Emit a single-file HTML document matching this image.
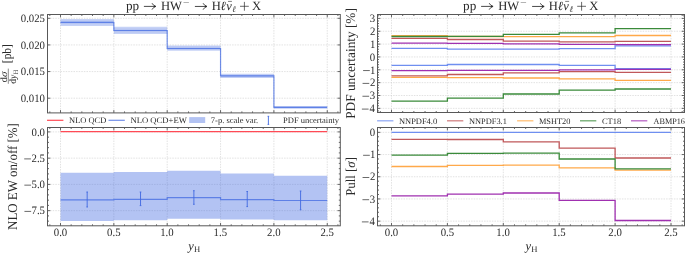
<!DOCTYPE html>
<html><head><meta charset="utf-8"><style>
html,body{margin:0;padding:0;background:#fff;width:685px;height:253px;overflow:hidden}
svg{display:block;will-change:transform}
text{font-family:"Liberation Serif",serif;fill:#2a2a2a;text-rendering:geometricPrecision}
</style></head><body>
<svg width="685" height="253" viewBox="0 0 685 253">
<rect width="685" height="253" fill="#fff"/>
<line x1="60.50" y1="14.50" x2="60.50" y2="112.50" stroke="#cfcfcf" stroke-width="0.6" stroke-dasharray="1.5,1.1"/>
<line x1="113.85" y1="14.50" x2="113.85" y2="112.50" stroke="#cfcfcf" stroke-width="0.6" stroke-dasharray="1.5,1.1"/>
<line x1="167.20" y1="14.50" x2="167.20" y2="112.50" stroke="#cfcfcf" stroke-width="0.6" stroke-dasharray="1.5,1.1"/>
<line x1="220.55" y1="14.50" x2="220.55" y2="112.50" stroke="#cfcfcf" stroke-width="0.6" stroke-dasharray="1.5,1.1"/>
<line x1="273.90" y1="14.50" x2="273.90" y2="112.50" stroke="#cfcfcf" stroke-width="0.6" stroke-dasharray="1.5,1.1"/>
<line x1="327.25" y1="14.50" x2="327.25" y2="112.50" stroke="#cfcfcf" stroke-width="0.6" stroke-dasharray="1.5,1.1"/>
<line x1="47.50" y1="18.30" x2="340.50" y2="18.30" stroke="#cfcfcf" stroke-width="0.6" stroke-dasharray="1.5,1.1"/>
<line x1="47.50" y1="44.93" x2="340.50" y2="44.93" stroke="#cfcfcf" stroke-width="0.6" stroke-dasharray="1.5,1.1"/>
<line x1="47.50" y1="71.57" x2="340.50" y2="71.57" stroke="#cfcfcf" stroke-width="0.6" stroke-dasharray="1.5,1.1"/>
<line x1="47.50" y1="98.20" x2="340.50" y2="98.20" stroke="#cfcfcf" stroke-width="0.6" stroke-dasharray="1.5,1.1"/>
<path d="M60.50 18.90L113.85 18.90L113.85 26.80L167.20 26.80L167.20 45.40L220.55 45.40L220.55 73.80L273.90 73.80L273.90 106.10L327.25 106.10L327.25 108.80L273.90 108.80L273.90 78.10L220.55 78.10L220.55 50.80L167.20 50.80L167.20 33.90L113.85 33.90L113.85 25.90L60.50 25.90Z" fill="#4169e1" fill-opacity="0.30"/>
<path d="M60.50 20.40L113.85 20.40L113.85 28.50L167.20 28.50L167.20 46.60L220.55 46.60L220.55 74.80L273.90 74.80L273.90 106.60L327.25 106.60L327.25 108.20L273.90 108.20L273.90 77.20L220.55 77.20L220.55 50.00L167.20 50.00L167.20 32.40L113.85 32.40L113.85 24.30L60.50 24.30Z" fill="#4169e1" fill-opacity="0.12"/>
<path d="M60.50 22.35H113.85V30.50H167.20V48.50H220.55V75.90H273.90V107.40H327.25" fill="none" stroke="#4169e1" stroke-opacity="0.75" stroke-width="1.2"/>
<path d="M60.50 112.90v-2.8M60.50 14.50v2.8M113.85 112.90v-2.8M113.85 14.50v2.8M167.20 112.90v-2.8M167.20 14.50v2.8M220.55 112.90v-2.8M220.55 14.50v2.8M273.90 112.90v-2.8M273.90 14.50v2.8M327.25 112.90v-2.8M327.25 14.50v2.8M49.83 112.90v-1.5M49.83 14.50v1.5M71.17 112.90v-1.5M71.17 14.50v1.5M81.84 112.90v-1.5M81.84 14.50v1.5M92.51 112.90v-1.5M92.51 14.50v1.5M103.18 112.90v-1.5M103.18 14.50v1.5M124.52 112.90v-1.5M124.52 14.50v1.5M135.19 112.90v-1.5M135.19 14.50v1.5M145.86 112.90v-1.5M145.86 14.50v1.5M156.53 112.90v-1.5M156.53 14.50v1.5M177.87 112.90v-1.5M177.87 14.50v1.5M188.54 112.90v-1.5M188.54 14.50v1.5M199.21 112.90v-1.5M199.21 14.50v1.5M209.88 112.90v-1.5M209.88 14.50v1.5M231.22 112.90v-1.5M231.22 14.50v1.5M241.89 112.90v-1.5M241.89 14.50v1.5M252.56 112.90v-1.5M252.56 14.50v1.5M263.23 112.90v-1.5M263.23 14.50v1.5M284.57 112.90v-1.5M284.57 14.50v1.5M295.24 112.90v-1.5M295.24 14.50v1.5M305.91 112.90v-1.5M305.91 14.50v1.5M316.58 112.90v-1.5M316.58 14.50v1.5M337.92 112.90v-1.5M337.92 14.50v1.5M47.50 18.30h2.8M340.30 18.30h-2.8M47.50 44.93h2.8M340.30 44.93h-2.8M47.50 71.57h2.8M340.30 71.57h-2.8M47.50 98.20h2.8M340.30 98.20h-2.8" stroke="#444" stroke-width="0.8" fill="none"/>
<rect x="47.50" y="14.50" width="292.80" height="98.40" fill="none" stroke="#585858" stroke-width="1"/>
<line x1="60.50" y1="127.50" x2="60.50" y2="225.50" stroke="#cfcfcf" stroke-width="0.6" stroke-dasharray="1.5,1.1"/>
<line x1="113.85" y1="127.50" x2="113.85" y2="225.50" stroke="#cfcfcf" stroke-width="0.6" stroke-dasharray="1.5,1.1"/>
<line x1="167.20" y1="127.50" x2="167.20" y2="225.50" stroke="#cfcfcf" stroke-width="0.6" stroke-dasharray="1.5,1.1"/>
<line x1="220.55" y1="127.50" x2="220.55" y2="225.50" stroke="#cfcfcf" stroke-width="0.6" stroke-dasharray="1.5,1.1"/>
<line x1="273.90" y1="127.50" x2="273.90" y2="225.50" stroke="#cfcfcf" stroke-width="0.6" stroke-dasharray="1.5,1.1"/>
<line x1="327.25" y1="127.50" x2="327.25" y2="225.50" stroke="#cfcfcf" stroke-width="0.6" stroke-dasharray="1.5,1.1"/>
<line x1="47.50" y1="131.90" x2="340.50" y2="131.90" stroke="#cfcfcf" stroke-width="0.6" stroke-dasharray="1.5,1.1"/>
<line x1="47.50" y1="158.15" x2="340.50" y2="158.15" stroke="#cfcfcf" stroke-width="0.6" stroke-dasharray="1.5,1.1"/>
<line x1="47.50" y1="184.40" x2="340.50" y2="184.40" stroke="#cfcfcf" stroke-width="0.6" stroke-dasharray="1.5,1.1"/>
<line x1="47.50" y1="210.65" x2="340.50" y2="210.65" stroke="#cfcfcf" stroke-width="0.6" stroke-dasharray="1.5,1.1"/>
<path d="M60.50 172.70L113.85 172.70L113.85 171.90L167.20 171.90L167.20 170.70L220.55 170.70L220.55 173.50L273.90 173.50L273.90 175.80L327.25 175.80L327.25 220.30L273.90 220.30L273.90 219.50L220.55 219.50L220.55 218.70L167.20 218.70L167.20 220.30L113.85 220.30L113.85 221.10L60.50 221.10Z" fill="#4169e1" fill-opacity="0.40"/>
<path d="M60.50 131.6H327.25" stroke="#ff4a55" stroke-width="1.2" fill="none"/>
<path d="M60.50 199.90H113.85V199.30H167.20V197.60H220.55V199.70H273.90V200.50H327.25" fill="none" stroke="#4169e1" stroke-opacity="0.75" stroke-width="1.2"/>
<path d="M87.17 192V207M86.38 192h1.6M86.38 207h1.6M140.53 192V205.6M139.72 192h1.6M139.72 205.6h1.6M193.88 190.7V204.3M193.07 190.7h1.6M193.07 204.3h1.6M247.22 191.5V206.6M246.42 191.5h1.6M246.42 206.6h1.6M300.58 191V209.8M299.78 191h1.6M299.78 209.8h1.6" stroke="#4169e1" stroke-width="0.9" fill="none"/>
<path d="M60.50 225.80v-2.8M60.50 127.50v2.8M113.85 225.80v-2.8M113.85 127.50v2.8M167.20 225.80v-2.8M167.20 127.50v2.8M220.55 225.80v-2.8M220.55 127.50v2.8M273.90 225.80v-2.8M273.90 127.50v2.8M327.25 225.80v-2.8M327.25 127.50v2.8M49.83 225.80v-1.5M49.83 127.50v1.5M71.17 225.80v-1.5M71.17 127.50v1.5M81.84 225.80v-1.5M81.84 127.50v1.5M92.51 225.80v-1.5M92.51 127.50v1.5M103.18 225.80v-1.5M103.18 127.50v1.5M124.52 225.80v-1.5M124.52 127.50v1.5M135.19 225.80v-1.5M135.19 127.50v1.5M145.86 225.80v-1.5M145.86 127.50v1.5M156.53 225.80v-1.5M156.53 127.50v1.5M177.87 225.80v-1.5M177.87 127.50v1.5M188.54 225.80v-1.5M188.54 127.50v1.5M199.21 225.80v-1.5M199.21 127.50v1.5M209.88 225.80v-1.5M209.88 127.50v1.5M231.22 225.80v-1.5M231.22 127.50v1.5M241.89 225.80v-1.5M241.89 127.50v1.5M252.56 225.80v-1.5M252.56 127.50v1.5M263.23 225.80v-1.5M263.23 127.50v1.5M284.57 225.80v-1.5M284.57 127.50v1.5M295.24 225.80v-1.5M295.24 127.50v1.5M305.91 225.80v-1.5M305.91 127.50v1.5M316.58 225.80v-1.5M316.58 127.50v1.5M337.92 225.80v-1.5M337.92 127.50v1.5M47.50 131.90h2.8M340.30 131.90h-2.8M47.50 158.15h2.8M340.30 158.15h-2.8M47.50 184.40h2.8M340.30 184.40h-2.8M47.50 210.65h2.8M340.30 210.65h-2.8M47.50 221.15h1.5M340.30 221.15h-1.5M47.50 215.90h1.5M340.30 215.90h-1.5M47.50 205.40h1.5M340.30 205.40h-1.5M47.50 200.15h1.5M340.30 200.15h-1.5M47.50 194.90h1.5M340.30 194.90h-1.5M47.50 189.65h1.5M340.30 189.65h-1.5M47.50 179.15h1.5M340.30 179.15h-1.5M47.50 173.90h1.5M340.30 173.90h-1.5M47.50 168.65h1.5M340.30 168.65h-1.5M47.50 163.40h1.5M340.30 163.40h-1.5M47.50 152.90h1.5M340.30 152.90h-1.5M47.50 147.65h1.5M340.30 147.65h-1.5M47.50 142.40h1.5M340.30 142.40h-1.5M47.50 137.15h1.5M340.30 137.15h-1.5" stroke="#444" stroke-width="0.8" fill="none"/>
<rect x="47.50" y="127.50" width="292.80" height="98.30" fill="none" stroke="#585858" stroke-width="1"/>
<line x1="391.50" y1="14.50" x2="391.50" y2="112.50" stroke="#cfcfcf" stroke-width="0.6" stroke-dasharray="1.5,1.1"/>
<line x1="447.40" y1="14.50" x2="447.40" y2="112.50" stroke="#cfcfcf" stroke-width="0.6" stroke-dasharray="1.5,1.1"/>
<line x1="503.30" y1="14.50" x2="503.30" y2="112.50" stroke="#cfcfcf" stroke-width="0.6" stroke-dasharray="1.5,1.1"/>
<line x1="559.20" y1="14.50" x2="559.20" y2="112.50" stroke="#cfcfcf" stroke-width="0.6" stroke-dasharray="1.5,1.1"/>
<line x1="615.10" y1="14.50" x2="615.10" y2="112.50" stroke="#cfcfcf" stroke-width="0.6" stroke-dasharray="1.5,1.1"/>
<line x1="671.00" y1="14.50" x2="671.00" y2="112.50" stroke="#cfcfcf" stroke-width="0.6" stroke-dasharray="1.5,1.1"/>
<line x1="377.50" y1="108.35" x2="684.50" y2="108.35" stroke="#cfcfcf" stroke-width="0.6" stroke-dasharray="1.5,1.1"/>
<line x1="377.50" y1="95.50" x2="684.50" y2="95.50" stroke="#cfcfcf" stroke-width="0.6" stroke-dasharray="1.5,1.1"/>
<line x1="377.50" y1="82.65" x2="684.50" y2="82.65" stroke="#cfcfcf" stroke-width="0.6" stroke-dasharray="1.5,1.1"/>
<line x1="377.50" y1="69.80" x2="684.50" y2="69.80" stroke="#cfcfcf" stroke-width="0.6" stroke-dasharray="1.5,1.1"/>
<line x1="377.50" y1="56.95" x2="684.50" y2="56.95" stroke="#cfcfcf" stroke-width="0.6" stroke-dasharray="1.5,1.1"/>
<line x1="377.50" y1="44.10" x2="684.50" y2="44.10" stroke="#cfcfcf" stroke-width="0.6" stroke-dasharray="1.5,1.1"/>
<line x1="377.50" y1="31.25" x2="684.50" y2="31.25" stroke="#cfcfcf" stroke-width="0.6" stroke-dasharray="1.5,1.1"/>
<line x1="377.50" y1="18.40" x2="684.50" y2="18.40" stroke="#cfcfcf" stroke-width="0.6" stroke-dasharray="1.5,1.1"/>
<path d="M391.50 48.40H447.40V49.10H503.30V49.10H559.20V48.60H615.10V45.80H671.00" fill="none" stroke="#6f8ff0" stroke-width="1.3"/>
<path d="M391.50 65.30H447.40V64.50H503.30V64.50H559.20V65.40H615.10V68.60H671.00" fill="none" stroke="#6f8ff0" stroke-width="1.3"/>
<path d="M391.50 38.40H447.40V39.50H503.30V41.20H559.20V41.90H615.10V41.30H671.00" fill="none" stroke="#c0585a" stroke-width="1.3"/>
<path d="M391.50 75.80H447.40V74.50H503.30V72.80H559.20V71.70H615.10V72.30H671.00" fill="none" stroke="#c0585a" stroke-width="1.3"/>
<path d="M391.50 35.60H447.40V36.50H503.30V36.60H559.20V36.60H615.10V35.50H671.00" fill="none" stroke="#ffa94a" stroke-width="1.3"/>
<path d="M391.50 77.40H447.40V77.60H503.30V78.00H559.20V78.80H615.10V80.30H671.00" fill="none" stroke="#ffa94a" stroke-width="1.3"/>
<path d="M391.50 36.50H447.40V36.30H503.30V34.40H559.20V32.90H615.10V28.70H671.00" fill="none" stroke="#3a8a3a" stroke-width="1.3"/>
<path d="M391.50 101.10H447.40V98.10H503.30V94.00H559.20V90.20H615.10V89.00H671.00" fill="none" stroke="#3a8a3a" stroke-width="1.3"/>
<path d="M391.50 43.20H447.40V43.40H503.30V43.80H559.20V44.30H615.10V44.60H671.00" fill="none" stroke="#a030b0" stroke-width="1.3"/>
<path d="M391.50 70.60H447.40V70.40H503.30V70.30H559.20V69.90H615.10V69.40H671.00" fill="none" stroke="#a030b0" stroke-width="1.3"/>
<path d="M391.50 112.50v-2.8M391.50 14.50v2.8M447.40 112.50v-2.8M447.40 14.50v2.8M503.30 112.50v-2.8M503.30 14.50v2.8M559.20 112.50v-2.8M559.20 14.50v2.8M615.10 112.50v-2.8M615.10 14.50v2.8M671.00 112.50v-2.8M671.00 14.50v2.8M380.32 112.50v-1.5M380.32 14.50v1.5M402.68 112.50v-1.5M402.68 14.50v1.5M413.86 112.50v-1.5M413.86 14.50v1.5M425.04 112.50v-1.5M425.04 14.50v1.5M436.22 112.50v-1.5M436.22 14.50v1.5M458.58 112.50v-1.5M458.58 14.50v1.5M469.76 112.50v-1.5M469.76 14.50v1.5M480.94 112.50v-1.5M480.94 14.50v1.5M492.12 112.50v-1.5M492.12 14.50v1.5M514.48 112.50v-1.5M514.48 14.50v1.5M525.66 112.50v-1.5M525.66 14.50v1.5M536.84 112.50v-1.5M536.84 14.50v1.5M548.02 112.50v-1.5M548.02 14.50v1.5M570.38 112.50v-1.5M570.38 14.50v1.5M581.56 112.50v-1.5M581.56 14.50v1.5M592.74 112.50v-1.5M592.74 14.50v1.5M603.92 112.50v-1.5M603.92 14.50v1.5M626.28 112.50v-1.5M626.28 14.50v1.5M637.46 112.50v-1.5M637.46 14.50v1.5M648.64 112.50v-1.5M648.64 14.50v1.5M659.82 112.50v-1.5M659.82 14.50v1.5M682.18 112.50v-1.5M682.18 14.50v1.5M377.50 108.35h2.8M684.50 108.35h-2.8M377.50 95.50h2.8M684.50 95.50h-2.8M377.50 82.65h2.8M684.50 82.65h-2.8M377.50 69.80h2.8M684.50 69.80h-2.8M377.50 56.95h2.8M684.50 56.95h-2.8M377.50 44.10h2.8M684.50 44.10h-2.8M377.50 31.25h2.8M684.50 31.25h-2.8M377.50 18.40h2.8M684.50 18.40h-2.8M377.50 110.92h1.5M684.50 110.92h-1.5M377.50 105.78h1.5M684.50 105.78h-1.5M377.50 103.21h1.5M684.50 103.21h-1.5M377.50 100.64h1.5M684.50 100.64h-1.5M377.50 98.07h1.5M684.50 98.07h-1.5M377.50 92.93h1.5M684.50 92.93h-1.5M377.50 90.36h1.5M684.50 90.36h-1.5M377.50 87.79h1.5M684.50 87.79h-1.5M377.50 85.22h1.5M684.50 85.22h-1.5M377.50 80.08h1.5M684.50 80.08h-1.5M377.50 77.51h1.5M684.50 77.51h-1.5M377.50 74.94h1.5M684.50 74.94h-1.5M377.50 72.37h1.5M684.50 72.37h-1.5M377.50 67.23h1.5M684.50 67.23h-1.5M377.50 64.66h1.5M684.50 64.66h-1.5M377.50 62.09h1.5M684.50 62.09h-1.5M377.50 59.52h1.5M684.50 59.52h-1.5M377.50 54.38h1.5M684.50 54.38h-1.5M377.50 51.81h1.5M684.50 51.81h-1.5M377.50 49.24h1.5M684.50 49.24h-1.5M377.50 46.67h1.5M684.50 46.67h-1.5M377.50 41.53h1.5M684.50 41.53h-1.5M377.50 38.96h1.5M684.50 38.96h-1.5M377.50 36.39h1.5M684.50 36.39h-1.5M377.50 33.82h1.5M684.50 33.82h-1.5M377.50 28.68h1.5M684.50 28.68h-1.5M377.50 26.11h1.5M684.50 26.11h-1.5M377.50 23.54h1.5M684.50 23.54h-1.5M377.50 20.97h1.5M684.50 20.97h-1.5M377.50 15.83h1.5M684.50 15.83h-1.5" stroke="#444" stroke-width="0.8" fill="none"/>
<rect x="377.50" y="14.50" width="307.00" height="98.00" fill="none" stroke="#585858" stroke-width="1"/>
<line x1="391.50" y1="127.50" x2="391.50" y2="225.50" stroke="#cfcfcf" stroke-width="0.6" stroke-dasharray="1.5,1.1"/>
<line x1="447.40" y1="127.50" x2="447.40" y2="225.50" stroke="#cfcfcf" stroke-width="0.6" stroke-dasharray="1.5,1.1"/>
<line x1="503.30" y1="127.50" x2="503.30" y2="225.50" stroke="#cfcfcf" stroke-width="0.6" stroke-dasharray="1.5,1.1"/>
<line x1="559.20" y1="127.50" x2="559.20" y2="225.50" stroke="#cfcfcf" stroke-width="0.6" stroke-dasharray="1.5,1.1"/>
<line x1="615.10" y1="127.50" x2="615.10" y2="225.50" stroke="#cfcfcf" stroke-width="0.6" stroke-dasharray="1.5,1.1"/>
<line x1="671.00" y1="127.50" x2="671.00" y2="225.50" stroke="#cfcfcf" stroke-width="0.6" stroke-dasharray="1.5,1.1"/>
<line x1="377.50" y1="221.15" x2="684.50" y2="221.15" stroke="#cfcfcf" stroke-width="0.6" stroke-dasharray="1.5,1.1"/>
<line x1="377.50" y1="198.95" x2="684.50" y2="198.95" stroke="#cfcfcf" stroke-width="0.6" stroke-dasharray="1.5,1.1"/>
<line x1="377.50" y1="176.75" x2="684.50" y2="176.75" stroke="#cfcfcf" stroke-width="0.6" stroke-dasharray="1.5,1.1"/>
<line x1="377.50" y1="154.55" x2="684.50" y2="154.55" stroke="#cfcfcf" stroke-width="0.6" stroke-dasharray="1.5,1.1"/>
<line x1="377.50" y1="132.35" x2="684.50" y2="132.35" stroke="#cfcfcf" stroke-width="0.6" stroke-dasharray="1.5,1.1"/>
<path d="M391.50 132.30H447.40V132.30H503.30V132.30H559.20V132.30H615.10V132.30H671.00" fill="none" stroke="#6f8ff0" stroke-width="1.3"/>
<path d="M391.50 139.30H447.40V139.50H503.30V141.80H559.20V148.20H615.10V158.00H671.00" fill="none" stroke="#c0585a" stroke-width="1.3"/>
<path d="M391.50 166.50H447.40V165.40H503.30V165.20H559.20V167.90H615.10V170.10H671.00" fill="none" stroke="#ffa94a" stroke-width="1.3"/>
<path d="M391.50 155.10H447.40V153.30H503.30V153.10H559.20V159.00H615.10V168.90H671.00" fill="none" stroke="#3a8a3a" stroke-width="1.3"/>
<path d="M391.50 195.90H447.40V194.20H503.30V193.00H559.20V200.40H615.10V220.50H671.00" fill="none" stroke="#a030b0" stroke-width="1.3"/>
<path d="M391.50 225.80v-2.8M391.50 127.50v2.8M447.40 225.80v-2.8M447.40 127.50v2.8M503.30 225.80v-2.8M503.30 127.50v2.8M559.20 225.80v-2.8M559.20 127.50v2.8M615.10 225.80v-2.8M615.10 127.50v2.8M671.00 225.80v-2.8M671.00 127.50v2.8M380.32 225.80v-1.5M380.32 127.50v1.5M402.68 225.80v-1.5M402.68 127.50v1.5M413.86 225.80v-1.5M413.86 127.50v1.5M425.04 225.80v-1.5M425.04 127.50v1.5M436.22 225.80v-1.5M436.22 127.50v1.5M458.58 225.80v-1.5M458.58 127.50v1.5M469.76 225.80v-1.5M469.76 127.50v1.5M480.94 225.80v-1.5M480.94 127.50v1.5M492.12 225.80v-1.5M492.12 127.50v1.5M514.48 225.80v-1.5M514.48 127.50v1.5M525.66 225.80v-1.5M525.66 127.50v1.5M536.84 225.80v-1.5M536.84 127.50v1.5M548.02 225.80v-1.5M548.02 127.50v1.5M570.38 225.80v-1.5M570.38 127.50v1.5M581.56 225.80v-1.5M581.56 127.50v1.5M592.74 225.80v-1.5M592.74 127.50v1.5M603.92 225.80v-1.5M603.92 127.50v1.5M626.28 225.80v-1.5M626.28 127.50v1.5M637.46 225.80v-1.5M637.46 127.50v1.5M648.64 225.80v-1.5M648.64 127.50v1.5M659.82 225.80v-1.5M659.82 127.50v1.5M682.18 225.80v-1.5M682.18 127.50v1.5M377.50 221.15h2.8M684.50 221.15h-2.8M377.50 198.95h2.8M684.50 198.95h-2.8M377.50 176.75h2.8M684.50 176.75h-2.8M377.50 154.55h2.8M684.50 154.55h-2.8M377.50 132.35h2.8M684.50 132.35h-2.8M377.50 216.71h1.5M684.50 216.71h-1.5M377.50 212.27h1.5M684.50 212.27h-1.5M377.50 207.83h1.5M684.50 207.83h-1.5M377.50 203.39h1.5M684.50 203.39h-1.5M377.50 194.51h1.5M684.50 194.51h-1.5M377.50 190.07h1.5M684.50 190.07h-1.5M377.50 185.63h1.5M684.50 185.63h-1.5M377.50 181.19h1.5M684.50 181.19h-1.5M377.50 172.31h1.5M684.50 172.31h-1.5M377.50 167.87h1.5M684.50 167.87h-1.5M377.50 163.43h1.5M684.50 163.43h-1.5M377.50 158.99h1.5M684.50 158.99h-1.5M377.50 150.11h1.5M684.50 150.11h-1.5M377.50 145.67h1.5M684.50 145.67h-1.5M377.50 141.23h1.5M684.50 141.23h-1.5M377.50 136.79h1.5M684.50 136.79h-1.5" stroke="#444" stroke-width="0.8" fill="none"/>
<rect x="377.50" y="127.50" width="307.00" height="98.30" fill="none" stroke="#585858" stroke-width="1"/>
<text transform="translate(20.74,21.98) scale(0.955,1)" font-size="11.3" >0.025</text>
<text transform="translate(20.73,48.61) scale(0.955,1)" font-size="11.3" >0.020</text>
<text transform="translate(20.74,75.24) scale(0.955,1)" font-size="11.3" >0.015</text>
<text transform="translate(20.73,101.88) scale(0.955,1)" font-size="11.3" >0.010</text>
<text transform="translate(31.52,135.58) scale(0.955,1)" font-size="11.3" >0.0</text>
<text transform="translate(31.53,161.81) scale(0.955,1)" font-size="11.3" >2.5</text>
<path d="M24.21 158.90h6.7" stroke="#2a2a2a" stroke-width="0.7"/>
<text transform="translate(31.52,188.08) scale(0.955,1)" font-size="11.3" >5.0</text>
<path d="M24.35 185.15h6.7" stroke="#2a2a2a" stroke-width="0.7"/>
<text transform="translate(31.53,214.27) scale(0.955,1)" font-size="11.3" >7.5</text>
<path d="M24.44 211.40h6.7" stroke="#2a2a2a" stroke-width="0.7"/>
<text transform="translate(369.47,112.07) scale(0.955,1)" font-size="11.3" >4</text>
<path d="M361.88 109.10h6.7" stroke="#2a2a2a" stroke-width="0.7"/>
<text transform="translate(369.73,99.19) scale(0.955,1)" font-size="11.3" >3</text>
<path d="M362.44 96.25h6.7" stroke="#2a2a2a" stroke-width="0.7"/>
<text transform="translate(369.90,86.39) scale(0.955,1)" font-size="11.3" >2</text>
<path d="M362.57 83.40h6.7" stroke="#2a2a2a" stroke-width="0.7"/>
<text transform="translate(369.95,73.53) scale(0.955,1)" font-size="11.3" >1</text>
<path d="M363.10 70.55h6.7" stroke="#2a2a2a" stroke-width="0.7"/>
<text transform="translate(369.72,60.65) scale(0.955,1)" font-size="11.3" >0</text>
<text transform="translate(369.95,47.83) scale(0.955,1)" font-size="11.3" >1</text>
<text transform="translate(369.90,34.99) scale(0.955,1)" font-size="11.3" >2</text>
<text transform="translate(369.73,22.09) scale(0.955,1)" font-size="11.3" >3</text>
<text transform="translate(369.47,224.87) scale(0.955,1)" font-size="11.3" >4</text>
<path d="M361.88 221.90h6.7" stroke="#2a2a2a" stroke-width="0.7"/>
<text transform="translate(369.73,202.64) scale(0.955,1)" font-size="11.3" >3</text>
<path d="M362.44 199.70h6.7" stroke="#2a2a2a" stroke-width="0.7"/>
<text transform="translate(369.90,180.49) scale(0.955,1)" font-size="11.3" >2</text>
<path d="M362.57 177.50h6.7" stroke="#2a2a2a" stroke-width="0.7"/>
<text transform="translate(369.95,158.28) scale(0.955,1)" font-size="11.3" >1</text>
<path d="M363.10 155.30h6.7" stroke="#2a2a2a" stroke-width="0.7"/>
<text transform="translate(369.72,136.05) scale(0.955,1)" font-size="11.3" >0</text>
<text transform="translate(53.76,236.28) scale(0.955,1)" font-size="11.3" >0.0</text>
<text transform="translate(384.76,236.28) scale(0.955,1)" font-size="11.3" >0.0</text>
<text transform="translate(107.11,236.28) scale(0.955,1)" font-size="11.3" >0.5</text>
<text transform="translate(440.66,236.28) scale(0.955,1)" font-size="11.3" >0.5</text>
<text transform="translate(160.19,236.28) scale(0.955,1)" font-size="11.3" >1.0</text>
<text transform="translate(496.29,236.28) scale(0.955,1)" font-size="11.3" >1.0</text>
<text transform="translate(213.54,236.25) scale(0.955,1)" font-size="11.3" >1.5</text>
<text transform="translate(552.19,236.25) scale(0.955,1)" font-size="11.3" >1.5</text>
<text transform="translate(267.12,236.28) scale(0.955,1)" font-size="11.3" >2.0</text>
<text transform="translate(608.32,236.28) scale(0.955,1)" font-size="11.3" >2.0</text>
<text transform="translate(320.48,236.26) scale(0.955,1)" font-size="11.3" >2.5</text>
<text transform="translate(664.23,236.26) scale(0.955,1)" font-size="11.3" >2.5</text>
<text x="125.89" y="9.70" font-size="13.2" >pp</text>
<path d="M143.90 6.40H155.50M152.00 3.20Q153.20 5.60 155.90 6.40Q153.20 7.20 152.00 9.60" fill="none" stroke="#2a2a2a" stroke-width="0.85"/><path d="M153.90 5.50L155.90 6.40L153.90 7.30Z" fill="#2a2a2a"/>
<text x="160.94" y="9.70" font-size="12.6" >HW</text>
<path d="M183.50 2.5H188.90" stroke="#2a2a2a" stroke-opacity="0.6" stroke-width="0.6"/>
<path d="M194.90 6.45H206.60M203.10 3.25Q204.30 5.65 207.00 6.45Q204.30 7.25 203.10 9.65" fill="none" stroke="#2a2a2a" stroke-width="0.85"/><path d="M205.00 5.55L207.00 6.45L205.00 7.35Z" fill="#2a2a2a"/>
<text x="211.64" y="9.70" font-size="12.6" >H</text>
<text x="220.54" y="9.70" font-size="12.6" font-style="italic" >ℓ</text>
<text x="226.13" y="9.70" font-size="12.6" font-style="italic" >ν</text>
<path d="M228.00 1.4H231.90" stroke="#2a2a2a" stroke-width="0.6"/>
<text x="232.22" y="12.00" font-size="8.6" font-style="italic" >ℓ</text>
<path d="M240.00 6.3H248.80M244.40 1.9V10.7" stroke="#2a2a2a" stroke-width="0.7"/>
<text x="252.02" y="9.70" font-size="12.6" >X</text>
<text x="463.09" y="9.70" font-size="13.2" >pp</text>
<path d="M481.10 6.40H492.70M489.20 3.20Q490.40 5.60 493.10 6.40Q490.40 7.20 489.20 9.60" fill="none" stroke="#2a2a2a" stroke-width="0.85"/><path d="M491.10 5.50L493.10 6.40L491.10 7.30Z" fill="#2a2a2a"/>
<text x="498.14" y="9.70" font-size="12.6" >HW</text>
<path d="M520.70 2.5H526.10" stroke="#2a2a2a" stroke-opacity="0.6" stroke-width="0.6"/>
<path d="M532.10 6.45H543.80M540.30 3.25Q541.50 5.65 544.20 6.45Q541.50 7.25 540.30 9.65" fill="none" stroke="#2a2a2a" stroke-width="0.85"/><path d="M542.20 5.55L544.20 6.45L542.20 7.35Z" fill="#2a2a2a"/>
<text x="548.84" y="9.70" font-size="12.6" >H</text>
<text x="557.74" y="9.70" font-size="12.6" font-style="italic" >ℓ</text>
<text x="563.33" y="9.70" font-size="12.6" font-style="italic" >ν</text>
<path d="M565.20 1.4H569.10" stroke="#2a2a2a" stroke-width="0.6"/>
<text x="569.42" y="12.00" font-size="8.6" font-style="italic" >ℓ</text>
<path d="M577.20 6.3H586.00M581.60 1.9V10.7" stroke="#2a2a2a" stroke-width="0.7"/>
<text x="589.22" y="9.70" font-size="12.6" >X</text>
<text x="188.13" y="249.60" font-size="12.6" font-style="italic" >y</text>
<text x="193.93" y="252.00" font-size="8.6" >H</text>
<text x="525.50" y="249.60" font-size="12.6" font-style="italic" >y</text>
<text x="531.30" y="252.00" font-size="8.6" >H</text>
<text transform="translate(16.80,229.60) rotate(-90) scale(0.9576,1)" x="-0.39" y="0" font-size="13.5">NLO EW on/off [%]</text>
<text transform="translate(355.20,118.40) rotate(-90) scale(0.9830,1)" x="-0.39" y="0" font-size="13.5">PDF uncertainty [%]</text>
<text transform="translate(355.20,195.40) rotate(-90) scale(0.9472,1)" x="-0.39" y="0" font-size="13.5">Pull [<tspan font-style="italic">σ</tspan>]</text>
<text transform="translate(6.5,82.2) rotate(-90) scale(1.15,1)" x="-0.35" y="0" font-size="9.6">d<tspan font-style="italic">σ</tspan></text>
<path d="M8.3 83.8V68.6" stroke="#2a2a2a" stroke-width="0.55"/>
<text transform="translate(15.8,84.1) rotate(-90)" x="0.3" y="0" font-size="9.6">d<tspan font-style="italic">y</tspan><tspan font-size="6.6" dy="1.7" dx="0.2">H</tspan></text>
<text transform="translate(11.3,62.3) rotate(-90) scale(0.9,1)" x="-0.93" y="0" font-size="12.6">[pb]</text>
<path d="M47 120.3H63.4" stroke="#ff4a55" stroke-width="1.2"/>
<text transform="translate(69.06,123.00) scale(0.999,1)" font-size="8.45" >NLO QCD</text>
<path d="M108.5 120.3H124.8" stroke="#4169e1" stroke-opacity="0.75" stroke-width="1.2"/>
<text transform="translate(130.45,123.00) scale(1.0225,1)" font-size="8.45" >NLO QCD+EW</text>
<rect x="189.2" y="117.1" width="16" height="5.9" fill="#4169e1" fill-opacity="0.4"/>
<text transform="translate(210.84,123.00) scale(1.0091,1)" font-size="8.45" >7-p. scale var.</text>
<path d="M268.4 116.3V124.4M267.6 116.3h1.6M267.6 124.4h1.6" stroke="#4169e1" stroke-width="0.9"/>
<text transform="translate(283.05,123.00) scale(1.0082,1)" font-size="8.45" >PDF uncertainty</text>
<path d="M377.1 120.8h16.3" stroke="#6f8ff0" stroke-width="1.3" stroke-opacity="0.75"/>
<text transform="translate(398.96,123.60) scale(0.9999,1)" font-size="8.45" >NNPDF4.0</text>
<path d="M447 120.8h16.3" stroke="#c0585a" stroke-width="1.3" stroke-opacity="0.75"/>
<text transform="translate(468.96,123.60) scale(0.9915,1)" font-size="8.45" >NNPDF3.1</text>
<path d="M517.1 120.8h16.3" stroke="#ffa94a" stroke-width="1.3" stroke-opacity="0.75"/>
<text transform="translate(538.96,123.60) scale(0.9853,1)" font-size="8.45" >MSHT20</text>
<path d="M580 120.8h16.3" stroke="#3a8a3a" stroke-width="1.3" stroke-opacity="0.75"/>
<text transform="translate(601.95,123.60) scale(0.9957,1)" font-size="8.45" >CT18</text>
<path d="M631 120.8h16.3" stroke="#a030b0" stroke-width="1.3" stroke-opacity="0.75"/>
<text transform="translate(653.52,123.60) scale(0.9698,1)" font-size="8.45" >ABMP16</text>
</svg>
</body></html>
